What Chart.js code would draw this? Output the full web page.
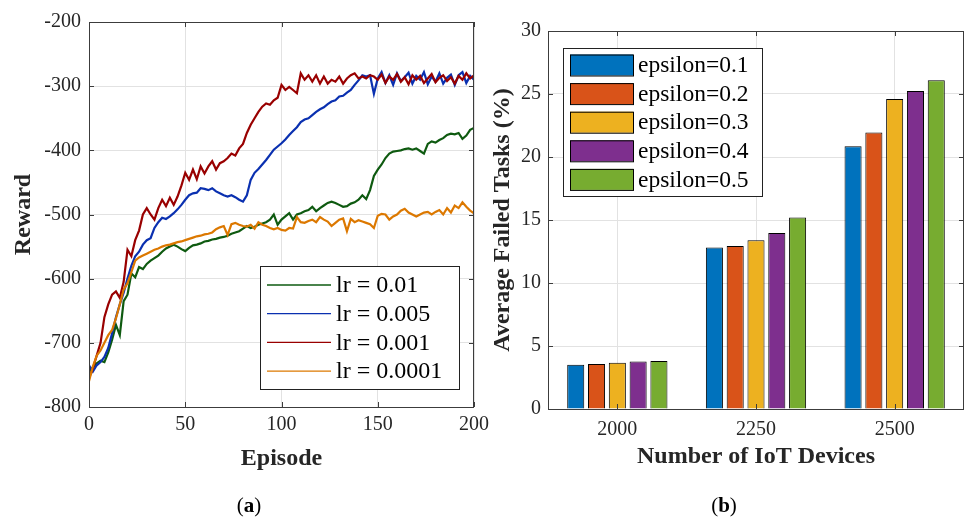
<!DOCTYPE html>
<html>
<head>
<meta charset="utf-8">
<script src="https://cdn.jsdelivr.net/npm/chart.js@4.4.1/dist/chart.umd.min.js"></script>
<style>
  body { margin: 0; background: #fff; }
  #wrap { position: relative; width: 964px; height: 518px; overflow: hidden; }
  #wrap canvas { position: absolute; left: 0; top: 0; }
  .cap { position: absolute; top: 493px; font: 21px "Liberation Serif", serif; color: #000; transform: translateX(-50%); line-height: 24px; }
</style>
</head>
<body>
<div id="wrap">
  <canvas id="lineChart" width="964" height="518"></canvas>
  <canvas id="barChart" width="964" height="518"></canvas>
  <div class="cap" style="left:249px">(<b>a</b>)</div>
  <div class="cap" style="left:724px">(<b>b</b>)</div>
</div>
<script>
// ---- panel (a): reward per episode ----
const episodes = [];
for (let e = 0; e <= 200; e += 2) episodes.push(e);

const lrLabels = ['lr = 0.01', 'lr = 0.005', 'lr = 0.001', 'lr = 0.0001'];
const lrColors = ['#0e5a10', '#0a30b0', '#990000', '#dc7800'];

const reward001 = [-745,-738,-732,-728,-730,-715,-695,-672,-688,-635,-625,-592,-598,-582,-585,-577,-572,-568,-564,-558,
  -553,-550,-547,-550,-554,-557,-552,-548,-547,-545,-542,-541,-539,-538,-536,-535,-533,-530,-528,-526,
  -522,-518,-521,-519,-516,-514,-512,-508,-500,-516,-508,-503,-498,-508,-500,-498,-495,-493,-488,-495,
  -490,-486,-482,-480,-482,-485,-488,-487,-483,-481,-477,-470,-476,-462,-440,-430,-422,-412,-405,-402,
  -401,-400,-398,-397,-399,-397,-401,-405,-390,-386,-388,-384,-381,-376,-374,-375,-373,-382,-377,-368,-365];
const reward0005 = [-735,-745,-735,-730,-722,-708,-685,-660,-640,-622,-600,-580,-565,-558,-547,-540,-537,-521,-512,-505,
  -507,-503,-498,-492,-485,-477,-470,-467,-466,-459,-460,-462,-459,-464,-467,-470,-472,-470,-473,-477,
  -480,-470,-446,-435,-429,-422,-415,-407,-399,-394,-389,-383,-376,-370,-364,-356,-352,-350,-345,-340,
  -336,-333,-328,-324,-322,-316,-315,-310,-306,-298,-291,-283,-285,-283,-312,-288,-278,-295,-283,-298,
  -280,-292,-286,-279,-296,-284,-290,-278,-297,-285,-293,-280,-296,-287,-282,-298,-283,-278,-295,-284,-290];
const reward0001 = [-755,-740,-720,-700,-660,-640,-625,-620,-630,-605,-555,-565,-540,-525,-500,-490,-500,-508,-490,-477,
  -487,-474,-485,-472,-455,-435,-446,-430,-445,-425,-436,-425,-417,-430,-420,-417,-412,-405,-408,-397,
  -390,-373,-360,-350,-340,-332,-327,-329,-322,-318,-298,-306,-301,-306,-311,-280,-290,-283,-293,-283,
  -296,-285,-296,-290,-293,-285,-296,-288,-283,-280,-288,-285,-288,-283,-285,-290,-282,-295,-285,-290,
  -281,-293,-286,-297,-283,-290,-284,-295,-288,-281,-294,-287,-283,-292,-286,-296,-284,-290,-280,-288,-283];
const reward00001 = [-760,-737,-720,-712,-700,-688,-680,-662,-640,-617,-607,-590,-572,-567,-564,-561,-558,-555,-553,-550,
  -548,-547,-545,-543,-542,-540,-538,-536,-534,-533,-531,-530,-528,-523,-520,-518,-532,-515,-513,-516,
  -518,-519,-516,-522,-512,-516,-518,-521,-523,-521,-524,-525,-521,-522,-504,-512,-513,-510,-508,-512,
  -504,-508,-511,-518,-513,-508,-506,-526,-507,-512,-509,-511,-513,-515,-521,-502,-499,-500,-508,-503,
  -500,-494,-491,-497,-500,-503,-500,-497,-496,-500,-496,-493,-500,-490,-497,-486,-490,-481,-488,-494,-498];
const rewardSeries = [reward001, reward0005, reward0001, reward00001];

// ---- panel (b): failed tasks ----
const deviceCounts = ['2000', '2250', '2500'];
const epsLabels = ['epsilon=0.1', 'epsilon=0.2', 'epsilon=0.3', 'epsilon=0.4', 'epsilon=0.5'];
const epsColors = ['#0072BD', '#D95319', '#EDB120', '#7E2F8E', '#77AC30'];
const failedEps01 = [3.52, 12.81, 20.85];
const failedEps02 = [3.57, 12.94, 21.94];
const failedEps03 = [3.68, 13.39, 24.60];
const failedEps04 = [3.76, 13.97, 25.24];
const failedEps05 = [3.81, 15.19, 26.09];
const failedSeries = [failedEps01, failedEps02, failedEps03, failedEps04, failedEps05];

const axisColor = '#3c3c3c';
const gridColor = '#e2e2e2';
const tickFont = { family: 'Liberation Serif', size: 20 };
const titleFont = { family: 'Liberation Serif', size: 24, weight: 'bold' };

// box round the axes with inward ticks on all four sides, like matlab
const boxPlugin = {
  id: 'matlabBox',
  afterDatasetsDraw(chart) {
    const { ctx, chartArea: a, scales } = chart;
    const tl = 5;
    ctx.save();
    ctx.strokeStyle = axisColor;
    ctx.lineWidth = 1;
    ctx.beginPath();
    scales.x.ticks.forEach((t, i) => {
      const px = Math.round(scales.x.getPixelForTick(i)) + 0.5;
      ctx.moveTo(px, a.bottom); ctx.lineTo(px, a.bottom - tl);
      ctx.moveTo(px, a.top); ctx.lineTo(px, a.top + tl);
    });
    scales.y.ticks.forEach((t, i) => {
      const py = Math.round(scales.y.getPixelForTick(i)) + 0.5;
      ctx.moveTo(a.left, py); ctx.lineTo(a.left + tl, py);
      ctx.moveTo(a.right, py); ctx.lineTo(a.right - tl, py);
    });
    ctx.stroke();
    ctx.strokeRect(Math.round(a.left) + 0.5, Math.round(a.top) + 0.5,
      Math.round(a.right - a.left) - 1, Math.round(a.bottom - a.top));
    ctx.restore();
  }
};

// legend drawn inside the axes in a white box
const legendPlugin = {
  id: 'boxLegend',
  afterDraw(chart, args, o) {
    const ctx = chart.ctx;
    ctx.save();
    ctx.fillStyle = '#fff';
    ctx.fillRect(o.x, o.y, o.w, o.h);
    ctx.strokeStyle = '#222';
    ctx.lineWidth = 1;
    ctx.strokeRect(o.x + 0.5, o.y + 0.5, o.w, o.h);
    ctx.font = o.font;
    ctx.textBaseline = 'middle';
    chart.data.datasets.forEach((ds, i) => {
      const cy = o.y + o.first + i * o.step;
      if (o.kind === 'line') {
        ctx.strokeStyle = ds.borderColor;
        ctx.lineWidth = 1.3;
        ctx.beginPath();
        ctx.moveTo(o.x + o.symX, cy);
        ctx.lineTo(o.x + o.symX + o.symW, cy);
        ctx.stroke();
      } else {
        ctx.fillStyle = ds.backgroundColor;
        ctx.fillRect(o.x + o.symX, cy - o.symH / 2, o.symW, o.symH);
        ctx.strokeStyle = '#000';
        ctx.lineWidth = 1;
        ctx.strokeRect(o.x + o.symX + 0.5, cy - o.symH / 2 + 0.5, o.symW, o.symH);
      }
      ctx.fillStyle = '#000';
      ctx.fillText(ds.label, o.x + o.textX, cy + 1);
    });
    ctx.restore();
  }
};

new Chart(document.getElementById('lineChart').getContext('2d'), {
  type: 'line',
  data: {
    datasets: rewardSeries.map((vals, i) => ({
      label: lrLabels[i],
      data: episodes.map((e, j) => ({ x: e, y: vals[j] })),
      borderColor: lrColors[i],
      borderWidth: 2.2,
      pointRadius: 0,
      tension: 0,
      order: 3 - i
    }))
  },
  options: {
    responsive: false,
    animation: false,
    layout: { padding: { left: 0, right: 490, top: 22, bottom: 0 } },
    scales: {
      x: {
        type: 'linear', min: 0, max: 200,
        ticks: { stepSize: 50, font: tickFont, color: '#262626', padding: 6, maxRotation: 0 },
        grid: { color: gridColor, drawTicks: false },
        border: { display: false },
        title: { display: true, text: 'Episode', font: titleFont, color: '#262626', padding: { top: 0, bottom: 45 } },
        afterFit(s) { s.height = 111; }
      },
      y: {
        min: -800, max: -200,
        ticks: { stepSize: 100, font: tickFont, color: '#262626', padding: 8 },
        grid: { color: gridColor, drawTicks: false },
        border: { display: false },
        title: { display: true, text: 'Reward', font: titleFont, color: '#262626', padding: { top: 9, bottom: 0 } },
        afterFit(s) { s.width = 89; }
      }
    },
    plugins: {
      legend: { display: false },
      tooltip: { enabled: false },
      boxLegend: { kind: 'line', x: 260, y: 266, w: 199, h: 123, first: 19, step: 28.7,
        symX: 7, symW: 64, textX: 76, font: '24px "Liberation Serif", serif' }
    }
  },
  plugins: [boxPlugin, legendPlugin]
});

new Chart(document.getElementById('barChart').getContext('2d'), {
  type: 'bar',
  data: {
    labels: deviceCounts,
    datasets: failedSeries.map((vals, i) => ({
      label: epsLabels[i],
      data: vals,
      backgroundColor: epsColors[i],
      borderColor: '#000',
      borderWidth: 1,
      categoryPercentage: 0.75,
      barPercentage: 0.82
    }))
  },
  options: {
    responsive: false,
    animation: false,
    layout: { padding: { left: 480, right: 0, top: 31, bottom: 0 } },
    scales: {
      x: {
        ticks: { font: tickFont, color: '#262626', padding: 9 },
        grid: { color: gridColor, drawTicks: false, offset: false },
        border: { display: false },
        title: { display: true, text: 'Number of IoT Devices', font: titleFont, color: '#262626', padding: { top: 0, bottom: 47 } },
        afterFit(s) { s.height = 109; }
      },
      y: {
        min: 0, max: 30,
        ticks: { stepSize: 5, font: tickFont, color: '#262626', padding: 7 },
        grid: { color: gridColor, drawTicks: false },
        border: { display: false },
        title: { display: true, text: 'Average Failed Tasks (%)', font: titleFont, color: '#262626', padding: { top: 8, bottom: 0 } },
        afterFit(s) { s.width = 68; }
      }
    },
    plugins: {
      legend: { display: false },
      tooltip: { enabled: false },
      boxLegend: { kind: 'bar', x: 563, y: 48, w: 199, h: 148, first: 17, step: 28.6,
        symX: 7, symW: 63, symH: 21, textX: 75, font: '23.5px "Liberation Serif", serif' }
    }
  },
  plugins: [boxPlugin, legendPlugin]
});
</script>
</body>
</html>
